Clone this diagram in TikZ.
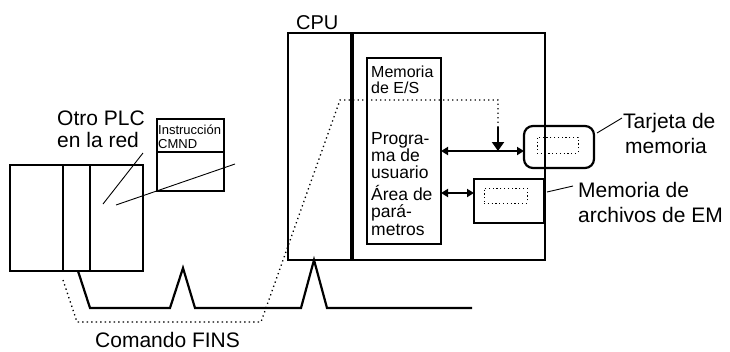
\documentclass[tikz,border=0pt]{standalone}
\usepackage{fontspec}
\setmainfont{Liberation Sans}
\usetikzlibrary{arrows.meta,calc}
\begin{document}
\begin{tikzpicture}[x=1pt,y=-1pt,
  box/.style={draw, line width=2.2pt, inner sep=0pt, outer sep=0pt, anchor=north west},
  dotbox/.style={draw, line width=1pt, dash pattern=on 1.2pt off 2.6pt, inner sep=0pt, outer sep=0pt, anchor=north west},
  lbl/.style={font=\fontsize{21}{24}\selectfont, inner sep=0pt, anchor=base west},
  mem/.style={font=\fontsize{16}{18}\selectfont, inner sep=0pt, anchor=base west},
  memb/.style={font=\fontsize{17.5}{19}\selectfont, inner sep=0pt, anchor=base west},
  ins/.style={font=\fontsize{13}{15}\selectfont, inner sep=0pt, anchor=base west},
  leader/.style={line width=0.9pt},
  dots/.style={line width=1.3pt, dash pattern=on 1.3pt off 3.2pt},
  net/.style={line width=2.2pt, line join=miter},
  dbl/.style={line width=2pt, {Triangle[length=7pt,width=8pt]}-{Triangle[length=7pt,width=8pt]}},
  down/.style={line width=2pt, -{Triangle[length=9pt,width=12pt]}}
]
\useasboundingbox (0,0) rectangle (730,351);

% ---- other PLC ----
\node[box, minimum width=133pt, minimum height=106pt] (plc) at (10,165) {};
\draw[line width=2.2pt] (63,165) -- (63,271);
\draw[line width=2.2pt] (90,165) -- (90,271);

% instruction box
\node[box, line width=1.2pt, minimum width=67pt, minimum height=72pt] (ins) at (157,119) {};
\draw[line width=1.2pt] (157,152) -- (224,152);
\node[ins] (ins1) at (158,134) {Instrucción};
\node[ins] (ins2) at (158,148) {CMND};

% labels other PLC
\node[lbl] (otro1) at (57,125) {Otro PLC};
\node[lbl] (otro2) at (57,147) {en la red};
\coordinate (l1a) at (143,153);
\coordinate (l1b) at (103,204);
\draw[leader] (l1a) -- (l1b);
\coordinate (l2a) at (116,205);
\coordinate (l2b) at (235,164);
\draw[leader] (l2a) -- (l2b);

% ---- CPU ----
\node[lbl, font=\fontsize{20}{24}\selectfont] (cpul) at (296,29.3) {CPU};
\node[box, minimum width=257pt, minimum height=227pt] (cpu) at (288,33) {};
\draw[line width=4pt] (352,33) -- (352,260);

% inner memory block
\node[box, line width=2.7pt, minimum width=74pt, minimum height=186pt] (inner) at (367,58) {};
\node[mem] (t1) at (371,77) {Memoria};
\node[mem] (t2) at (371,93) {de E/S};
\node[memb] (t3) at (371,144) {Progra-};
\node[memb] (t4) at (371,161) {ma de};
\node[memb] (t5) at (371,178) {usuario};
\node[memb] (t6) at (371,200) {Área de};
\node[memb] (t7) at (371,217) {pará-};
\node[memb] (t8) at (371,235) {metros};

% memory card
\node[box, line width=2.2pt, rounded corners=9pt, minimum width=70pt, minimum height=42pt] (tarj) at (524,126) {};
\node[dotbox, minimum width=41pt, minimum height=16pt] (tarjin) at (537,137) {};
\node[lbl] (tj1) at (623,128) {Tarjeta de};
\node[lbl] (tj2) at (625,153) {memoria};
\coordinate (l3a) at (597,133);
\coordinate (l3b) at (622,118);
\draw[leader] (l3a) -- (l3b);

% EM file memory
\node[box, line width=2.5pt, minimum width=70pt, minimum height=44pt] (em) at (474,179) {};
\node[dotbox, minimum width=43pt, minimum height=15pt] (emin) at (484,188) {};
\node[lbl] (em1) at (578,197) {Memoria de};
\node[lbl] (em2) at (578,222) {archivos de EM};
\coordinate (l4a) at (547,192);
\coordinate (l4b) at (573,186);
\draw[leader] (l4a) -- (l4b);

% arrows
\draw[dbl] (inner.east) -- (inner.east -| tarj.west);
\coordinate (emA) at (474,193);
\draw[dbl] (inner.east |- emA) -- (emA);
\coordinate (drop) at (498,127);
\draw[down] (drop) -- (drop |- inner.east);

% ---- network ----
\coordinate (tap) at (78,271);
\coordinate (cputap) at (314,260);
\draw[net] (tap) -- (90,308) -- (170,308) -- (183,268) -- (195,308) -- (301,308) -- (cputap) -- (327,308) -- (472,308);

% FINS command path
\coordinate (f0) at (63,280);
\coordinate (f1) at (498,100);
\draw[dots] (f0) -- (77,322) -- (261,322) -- (340,100) -- (f1) -- (drop);
\node[lbl] (fins) at (95,347.5) {Comando FINS};
\end{tikzpicture}
\end{document}
